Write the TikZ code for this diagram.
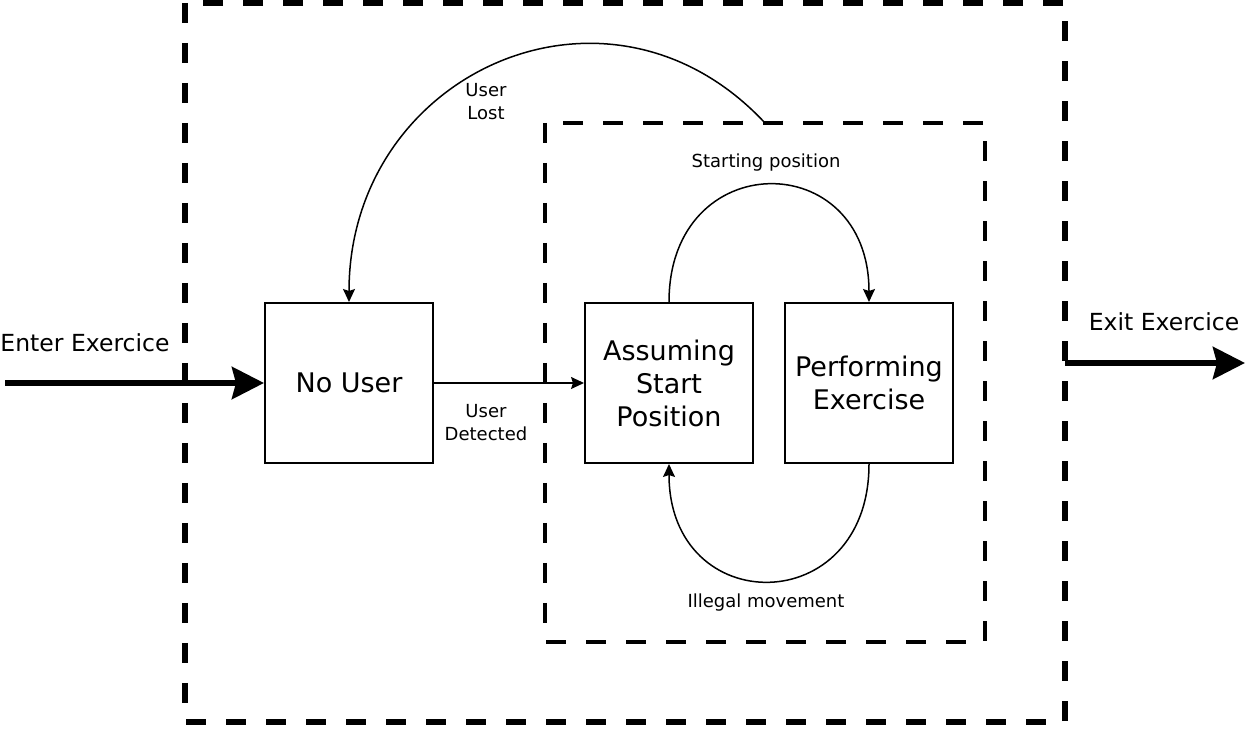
\documentclass[tikz,border=0pt]{standalone}
\usepackage{fontspec}
\setmainfont{DejaVu Sans}
\usetikzlibrary{arrows.meta}
\tikzset{arrow/.style={-{Stealth[length=13pt,width=12pt,inset=2pt]}, line width=1.5pt}}
\tikzset{thick-arrow/.style={-{Stealth[length=32pt,width=32pt,inset=4pt]}, line width=6pt}}
\tikzset{state/.style={draw, line width=2pt, minimum width=168pt, minimum height=160pt, align=center, font=\fontsize{27}{33}\selectfont}}
\tikzset{outer-box/.style={dash pattern=on 20pt off 20pt, line width=6pt}}
\tikzset{inner-box/.style={dash pattern=on 20pt off 20pt, line width=4.5pt}}
\tikzset{small-label/.style={align=center, font=\fontsize{18}{23}\selectfont}}
\tikzset{big-label/.style={font=\fontsize{23.5}{28}\selectfont}}

\begin{document}
\begin{tikzpicture}[x=1pt, y=1pt]
      \useasboundingbox (0, 0) rectangle (1247, 728);

      % the two dashed frames
      \draw[outer-box] (185, 725) rectangle (1065, 6);
      \draw[inner-box] (545, 605) rectangle (985, 86);

      \node[state] (NoUser) at (349, 345) {No User};
      \node[state] (Assuming) at (669, 345) {Assuming\\Start\\Position};
      \node[state] (Performing) at (869, 345) {Performing\\Exercise};

      \coordinate (start) at (5, 345);
      \coordinate (exitA) at (1065, 365);
      \coordinate (exitB) at (1245, 365);
      \coordinate (lost) at (765, 605);

      \draw[thick-arrow] (start) -- (NoUser.west);
      \draw[thick-arrow] (exitA) -- (exitB);
      \draw[arrow] (NoUser.east) -- (Assuming.west);
      \draw[arrow] (lost) to[out=133, in=90, looseness=1.3] (NoUser.north);
      \draw[arrow] (Assuming.north) to[out=90, in=90, looseness=2] (Performing.north);
      \draw[arrow] (Performing.south) to[out=-90, in=-90, looseness=2] (Assuming.south);

      \node[big-label] (enter) at (85, 385) {Enter Exercice};
      \node[big-label] (exit) at (1164, 406) {Exit Exercice};
      \node[small-label] (userlost) at (486, 626) {User\\Lost};
      \node[small-label] (detected) at (486, 305) {User\\Detected};
      \node[small-label] (startpos) at (766, 565) {Starting position};
      \node[small-label] (illegal) at (766, 125) {Illegal movement};
\end{tikzpicture}
\end{document}
